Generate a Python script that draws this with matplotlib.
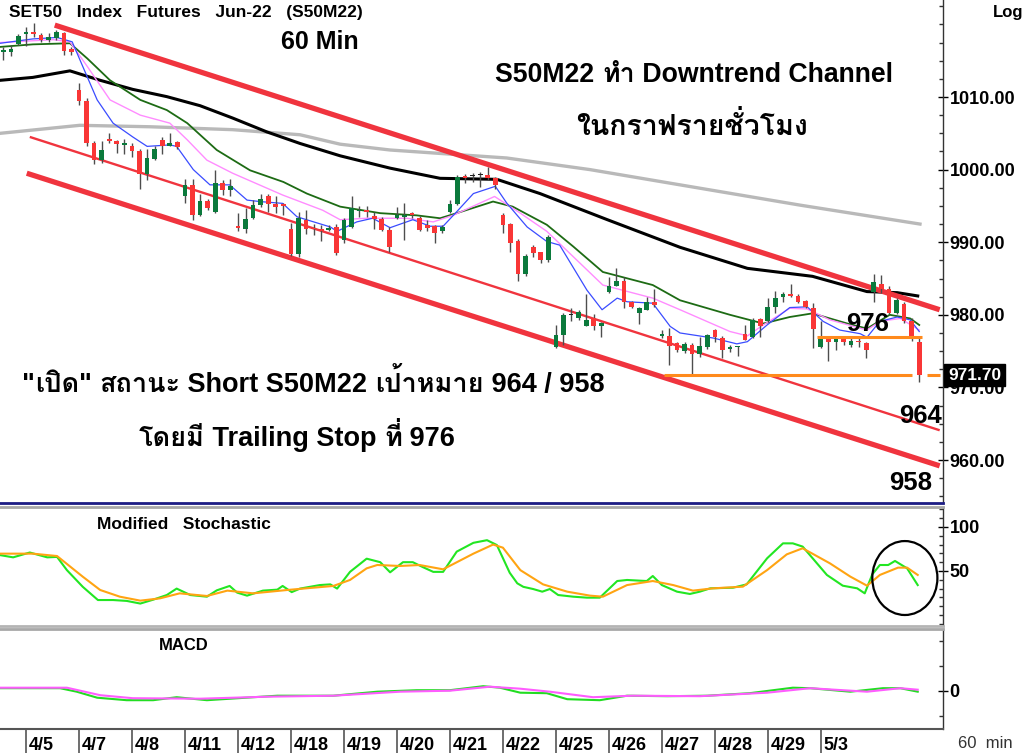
import re
import matplotlib
matplotlib.use('Agg')
import matplotlib.pyplot as plt
from matplotlib import font_manager
from matplotlib import patheffects as pe
from matplotlib.ft2font import FT2Font
from matplotlib.patches import Ellipse
from matplotlib.ticker import FixedLocator, MultipleLocator, FormatStrFormatter, NullFormatter
import numpy as np

# ---------------- data ----------------
opens = [1016.2, 1016.2, 1017.3, 1018.7, 1018.9, 1018.5, 1017.9, 1018.1, 1018.8, 1016.6,
         1010.9, 1009.4, 1003.6, 1001.3, 1004.2, 1003.9, 1003.4, 1003.2, 1002.5, 999.4,
         1001.4, 1004.1, 1003.3, 1003.8, 996.3, 997.9, 993.7, 995.7, 994.1, 998.2,
         997.2, 992.3, 991.8, 993.3, 995.1, 996.4, 995.3, 995.2, 991.8, 988.4,
         993.1, 992.0, 991.8, 991.7, 992.1, 990.3, 992.1, 994.3, 994.4, 993.6,
         993.2, 991.7, 993.4, 993.5, 994.0, 993.4, 992.4, 992.2, 991.5, 994.1,
         995.3, 999.1, 999.1, 999.2, 999.3, 998.8, 993.8, 992.5, 990.1, 985.6,
         989.4, 988.6, 987.5, 975.5, 977.2, 980.0, 979.5, 978.5, 979.5, 978.5,
         983.2, 984.0, 984.7, 981.8, 980.2, 980.7, 981.7, 977.1, 977.1, 976.1,
         975.0, 975.8, 974.6, 975.5, 977.9, 976.8, 975.3, 975.5, 977.4, 976.9,
         979.4, 979.1, 981.1, 982.5, 982.8, 982.6, 981.9, 981.0, 975.5, 976.9,
         976.2, 976.9, 975.8, 976.3, 976.1, 983.1, 984.3, 983.5, 980.3, 981.5,
         979.2, 976.2]
highs = [1016.9, 1017.2, 1018.7, 1019.7, 1020.2, 1018.8, 1018.8, 1019.2, 1019.0, 1016.9,
         1011.9, 1009.8, 1004.0, 1003.9, 1005.0, 1004.1, 1004.2, 1003.6, 1002.9, 1002.9,
         1003.2, 1004.5, 1005.0, 1003.9, 998.7, 998.7, 996.7, 995.9, 999.9, 998.6,
         998.7, 994.0, 994.7, 995.8, 996.6, 996.7, 996.3, 995.4, 992.6, 994.1,
         994.4, 992.5, 992.4, 992.4, 992.5, 993.3, 996.3, 995.0, 995.0, 994.2,
         993.5, 992.1, 994.9, 995.4, 994.2, 993.6, 993.0, 992.4, 992.4, 995.8,
         999.3, 999.4, 999.6, 999.7, 1000.4, 999.0, 994.0, 992.6, 990.4, 988.4,
         989.6, 988.7, 991.0, 978.6, 980.2, 980.9, 980.7, 982.9, 980.1, 979.0,
         985.2, 986.4, 985.2, 981.9, 981.1, 982.4, 983.5, 977.9, 978.2, 976.2,
         976.2, 976.1, 977.0, 977.4, 978.0, 977.1, 975.9, 975.7, 978.6, 979.5,
         979.5, 982.3, 983.3, 983.1, 984.3, 982.9, 982.1, 981.6, 979.1, 977.1,
         977.1, 977.1, 976.8, 977.1, 976.3, 985.6, 985.5, 984.0, 982.3, 981.7,
         979.5, 976.9]
lows = [1015.1, 1015.6, 1017.2, 1017.0, 1018.2, 1017.6, 1017.6, 1017.9, 1015.8, 1015.8,
        1008.9, 1003.2, 1000.8, 1000.9, 1003.7, 1002.3, 1002.2, 1001.7, 997.3, 998.6,
        1001.3, 1002.1, 1003.2, 1002.9, 995.4, 993.1, 993.6, 994.5, 994.0, 996.5,
        996.4, 991.6, 991.2, 993.2, 994.8, 994.2, 994.0, 993.7, 988.1, 988.0,
        991.1, 991.0, 990.2, 991.5, 988.2, 989.9, 992.0, 993.5, 993.5, 991.8,
        991.5, 988.7, 993.2, 990.3, 993.4, 991.5, 991.5, 989.9, 991.2, 994.0,
        995.1, 998.1, 998.3, 997.6, 998.6, 997.3, 991.2, 988.6, 984.6, 985.3,
        988.0, 987.1, 987.3, 975.4, 975.8, 979.1, 979.3, 978.4, 977.9, 977.0,
        983.0, 983.9, 980.9, 980.9, 978.8, 980.7, 981.1, 976.8, 973.1, 974.9,
        974.8, 971.9, 974.2, 975.3, 976.3, 974.0, 974.9, 974.3, 976.5, 976.8,
        977.0, 979.0, 980.3, 981.8, 982.5, 981.6, 980.9, 975.4, 975.4, 973.7,
        975.2, 975.9, 975.5, 975.5, 974.1, 981.7, 983.0, 980.1, 980.1, 978.9,
        976.4, 970.7]
closes = [1016.5, 1016.6, 1018.4, 1019.0, 1018.7, 1017.9, 1018.2, 1018.9, 1016.4, 1016.2,
          1009.5, 1003.6, 1001.3, 1002.7, 1004.0, 1003.5, 1003.7, 1002.5, 999.4, 1001.6,
          1002.8, 1003.2, 1003.7, 1003.1, 997.9, 993.7, 995.7, 994.7, 998.2, 997.2,
          997.7, 992.0, 993.2, 995.1, 995.9, 995.3, 994.9, 995.0, 988.4, 993.3,
          991.8, 991.8, 991.6, 991.9, 988.5, 993.0, 994.7, 994.5, 994.1, 993.2,
          991.7, 989.3, 993.7, 993.8, 993.7, 991.7, 992.0, 991.3, 992.1, 995.3,
          999.0, 998.9, 999.1, 999.2, 998.8, 997.9, 992.4, 989.9, 985.6, 988.1,
          988.5, 987.5, 990.7, 977.2, 980.0, 980.05, 980.4, 979.3, 978.5, 978.9,
          984.0, 984.6, 981.8, 981.1, 980.9, 981.7, 981.4, 977.4, 975.7, 975.2,
          976.0, 974.6, 975.7, 977.2, 977.0, 975.2, 975.6, 975.6, 976.6, 979.3,
          978.5, 981.1, 982.3, 982.8, 982.6, 981.8, 981.1, 978.1, 976.9, 976.2,
          976.9, 976.2, 976.4, 976.2, 975.2, 984.5, 983.5, 980.3, 982.0, 979.1,
          976.9, 971.7]

day_labels = ['4/5', '4/7', '4/8', '4/11', '4/12', '4/18', '4/19', '4/20', '4/21',
              '4/22', '4/25', '4/26', '4/27', '4/28', '4/29', '5/3']
day_start = [3, 10, 17, 24, 31, 38, 45, 52, 59, 66, 73, 80, 87, 94, 101, 108]

# moving averages (bar index, value)
gray_idx = [-0.4, 10.1, 19.4, 30.3, 39.2, 44.5, 51.1, 66.5, 77.5, 89.4, 105.3, 121.1]
gray_val = [1005.0, 1006.1, 1005.9, 1005.5, 1004.8, 1003.5, 1002.7, 1001.6, 1000.0, 997.9, 995.1, 992.5]
black_idx = [-0.4, 3.9, 8.8, 12.8, 17.1, 21.6, 26.0, 30.3, 34.8, 39.2, 44.5, 51.1, 57.7, 65.2,
             70.9, 79.8, 89.4, 98.3, 106.9, 114.1, 118.1, 120.8]
black_val = [1012.3, 1012.7, 1013.6, 1012.3, 1011.05, 1010.05, 1008.8, 1007.1, 1005.2, 1003.6,
             1001.9, 1000.2, 998.8, 998.66, 996.7, 993.1, 989.3, 986.4, 985.3, 983.2, 983.05, 982.6]
green_idx = [-0.4, 3.9, 8.8, 11.1, 14.1, 18.1, 21.6, 24.3, 28.2, 32.6, 37.0, 40.1, 44.5, 49.8,
             54.6, 57.7, 59.9, 64.7, 67.3, 71.8, 75.3, 79.2, 85.8, 89.4, 96.0, 100.4, 103.9,
             106.9, 111.5, 114.1, 117.1, 119.8, 121.0]
green_val = [1016.9, 1017.25, 1017.4, 1015.3, 1012.3, 1009.6, 1008.2, 1006.4, 1002.7, 999.9,
             998.3, 996.7, 994.9, 994.0, 993.7, 993.3, 994.0, 995.6, 994.9, 992.4, 989.4, 985.9,
             984.1, 982.0, 980.0, 978.8, 979.7, 980.2, 978.8, 978.1, 980.0, 979.5, 978.6]
pink_idx = [-0.4, 6.6, 8.8, 11.1, 14.1, 18.1, 22.0, 24.3, 26.9, 30.3, 36.9, 42.2, 44.5, 48.0,
            53.3, 56.8, 59.4, 64.9, 68.3, 71.8, 75.3, 79.2, 85.8, 89.4, 96.0, 98.3, 100.4,
            103.9, 106.2, 109.2, 114.1, 115.8, 118.5, 121.0]
pink_val = [1017.5, 1017.9, 1017.6, 1014.2, 1009.6, 1007.5, 1006.4, 1004.1, 1001.3, 999.5,
            996.5, 994.4, 993.1, 993.3, 993.3, 992.8, 993.7, 996.3, 994.0, 991.5, 988.0, 984.1,
            982.3, 980.7, 977.7, 977.1, 978.6, 980.9, 980.8, 979.3, 977.9, 979.1, 979.5, 977.9]
blue_idx = [-0.4, 3.9, 7.1, 9.1, 10.5, 12.4, 14.5, 17.1, 19.0, 22.0, 22.9, 25.1, 27.3, 29.9,
            32.2, 33.9, 36.9, 38.8, 43.2, 44.1, 46.7, 48.8, 51.1, 54.1, 56.4, 58.1, 59.9, 62.1,
            65.0, 66.5, 69.2, 71.8, 73.5, 77.1, 79.1, 81.1, 82.4, 85.8, 88.1, 89.4, 93.8, 96.9,
            98.3, 100.9, 103.9, 106.2, 108.3, 110.5, 113.2, 114.1, 115.8, 118.1, 119.8, 121.0]
blue_val = [1017.4, 1018.0, 1018.2, 1017.6, 1014.2, 1009.6, 1006.4, 1004.5, 1003.2, 1003.4,
            1003.2, 1000.0, 997.9, 997.9, 995.8, 995.6, 995.35, 993.5, 992.1, 991.5, 992.8,
            993.3, 992.0, 993.1, 992.2, 992.2, 994.2, 996.7, 997.7, 995.4, 992.1, 990.1, 989.6,
            983.4, 980.7, 982.3, 981.8, 981.6, 978.4, 977.5, 976.8, 976.0, 976.3, 978.6, 981.0,
            981.1, 979.1, 977.9, 977.4, 976.9, 979.1, 979.7, 979.3, 977.7]

# trend channel (bar index, price) end points
chan_upper_x = [6.8, 123.7]
chan_upper_y = [1019.9, 980.7]
chan_mid_x = [3.5, 123.7]
chan_mid_y = [1004.5, 964.1]
chan_lower_x = [3.1, 123.7]
chan_lower_y = [999.5, 959.2]

stop_level = 977.0
stop_x = [107.5, 121.4]
last_level = 971.7
last_x1 = [87.3, 120.0]
last_x2 = [122.0, 123.7]

# Modified stochastic
stk_idx = [-0.4, 1.3, 3.5, 5.8, 7.1, 8.4, 10.5, 12.5, 14.5, 16.3, 18.1, 19.8, 21.6, 22.9, 24.7,
           26.9, 28.2, 29.9, 30.9, 32.2, 34.3, 36.2, 36.9, 38.1, 39.2, 41.8, 43.2, 44.1, 45.8,
           48.0, 49.8, 51.1, 52.8, 54.1, 55.4, 56.8, 58.1, 59.9, 62.1, 63.9, 65.2, 66.9, 67.9,
           68.7, 70.0, 71.2, 72.2, 73.3, 75.3, 77.1, 78.8, 81.1, 82.4, 85.0, 85.8, 87.0, 89.0,
           90.7, 92.0, 93.4, 96.4, 98.2, 100.9, 103.0, 104.3, 105.6, 108.8, 110.9, 112.8, 113.8,
           114.8, 115.8, 116.9, 117.8, 119.4, 120.8]
stk_val = [68, 65.5, 71, 65.5, 66, 51, 32, 17, 17, 16, 13, 17.4, 22.7, 30, 22.7, 20.8, 28, 33,
           25.4, 22, 27.7, 28.8, 33, 26, 30, 34, 34.8, 30, 49, 64, 60, 48.5, 60, 60, 54.5, 49, 49,
           72, 82, 85, 79.5, 48, 36, 32, 29.5, 26.5, 29.5, 22.7, 20.8, 19.7, 19.7, 38.6, 39.8,
           38.6, 44.3, 34, 26.5, 23.9, 26.5, 30.3, 31, 34.8, 64.4, 81.4, 81.4, 77.7, 45.5, 33.3,
           30.3, 24.6, 46.2, 56.8, 56.8, 61.4, 53, 34]
std_idx = [-0.4, 3.9, 7.1, 10.5, 12.8, 15.4, 18.1, 20.7, 23.3, 26.9, 29.6, 33.0, 37.5, 43.6,
           45.8, 48.0, 49.4, 52.4, 55.0, 58.1, 62.1, 64.7, 66.0, 68.3, 71.3, 74.5, 77.5, 79.2,
           82.4, 85.8, 88.5, 91.1, 93.8, 97.7, 100.9, 103.5, 105.6, 109.2, 111.9, 114.1, 115.8,
           118.2, 119.4, 120.8]
std_val = [69.7, 69.7, 67, 43.5, 28.4, 20.8, 16.3, 18.9, 24.6, 21.6, 27.7, 24.6, 28.4, 33, 39.8,
           53, 56.8, 55.7, 56.8, 51.9, 69.7, 80, 76.5, 51, 34.8, 26.5, 22, 20.8, 34, 38.6, 34,
           27.7, 30.3, 32.2, 51, 68.9, 75.8, 58.7, 43.6, 33.3, 45.5, 53.8, 53.8, 45.5]

# MACD
macd_idx = [-0.4, 7.5, 9.7, 12.4, 16.3, 19.8, 22.9, 26.9, 36.2, 43.6, 49.4, 54.6, 59.0, 63.4,
            65.6, 68.3, 71.8, 74.5, 78.8, 82.4, 87.7, 93.0, 98.6, 104.3, 106.6, 111.9, 116.2,
            118.5, 120.8]
macd_val = [0.5, 0.5, -0.2, -1.4, -1.9, -1.9, -1.3, -1.9, -1.0, -1.0, -0.2, 0.1, 0.1, 0.9, 0.6,
            -0.4, -0.5, -1.7, -1.9, -1.0, -1.1, -1.0, -0.5, 0.6, 0.5, -0.2, 0.5, 0.5, -0.2]
sig_idx = [-0.4, 8.4, 12.8, 17.1, 26.0, 34.8, 43.6, 52.4, 59.0, 64.3, 68.3, 72.2, 77.9, 83.2,
           92.0, 100.9, 106.6, 114.1, 118.5, 120.8]
sig_val = [0.6, 0.6, -0.9, -1.5, -1.6, -1.2, -1.0, -0.2, 0.0, 0.8, 0.4, -0.2, -1.3, -1.0, -1.1,
           -0.4, 0.5, -0.2, 0.5, 0.2]

# ---------------- fonts ----------------
def thai_font_info():
    info = {}
    for f in font_manager.fontManager.ttflist:
        try:
            cmap = FT2Font(f.fname).get_charmap()
        except Exception:
            continue
        if all(cp in cmap for cp in (0x0E17, 0x0E42, 0x0E1F, 0x0E34, 0x0E49)):
            w = f.weight
            if isinstance(w, str):
                w = font_manager.weight_dict.get(w, 400)
            info.setdefault(f.name, set()).add(int(w))
    return info

tinfo = thai_font_info()
pref = ['Tahoma', 'Loma', 'Garuda', 'Noto Sans Thai Looped', 'Noto Sans Thai', 'Noto Sans Thai UI',
        'Tlwg Typo', 'Waree', 'Umpush', 'Sawasdee', 'Norasi', 'Kinnari', 'FreeSans']
bold_fams = [n for n in tinfo if max(tinfo[n]) >= 600]
thai = None
thai_bold = False
for p in pref:
    if p in bold_fams:
        thai, thai_bold = p, True
        break
if thai is None and bold_fams:
    thai, thai_bold = bold_fams[0], True
if thai is None:
    for p in pref:
        if p in tinfo:
            thai = p
            break
if thai is None and tinfo:
    thai = sorted(tinfo)[0]

latin = ['Liberation Sans', 'DejaVu Sans']
plt.rcParams['font.family'] = latin
plt.rcParams['font.weight'] = 'bold'

# ---------------- figure ----------------
W, H = 1024.0, 753.0
fig = plt.figure(figsize=(W / 100, H / 100), dpi=100)
fig.patch.set_facecolor('white')

def rect(x0, y0, x1, y1):
    return [x0 / W, 1 - y1 / H, (x1 - x0) / W, (y1 - y0) / H]

ax = fig.add_axes(rect(0, 0, 942.7, 502.5))
axs = fig.add_axes(rect(0, 507, 942.7, 626))
axm = fig.add_axes(rect(0, 628.5, 942.7, 729))

XL = (-0.436, 124.1)
for a in (ax, axs, axm):
    a.set_xlim(*XL)
    a.set_xticks([])
    a.spines['left'].set_visible(False)
    a.spines['right'].set_color('#333333')
    a.spines['right'].set_linewidth(1.0)
    a.yaxis.tick_right()
    a.set_facecolor('white')

ax.set_ylim(954.15, 1023.36)
axs.set_ylim(-12.5, 122.7)
axm.set_ylim(-7.66, 12.44)

ax.spines['top'].set_visible(False)
ax.spines['bottom'].set_color('#1c1c84')
ax.spines['bottom'].set_linewidth(2.0)
axs.spines['top'].set_color('#a8a8a8')
axs.spines['top'].set_linewidth(2.0)
axs.spines['bottom'].set_color('#b4b4b4')
axs.spines['bottom'].set_linewidth(2.0)
axm.spines['top'].set_color('#a8a8a8')
axm.spines['top'].set_linewidth(2.0)
axm.spines['bottom'].set_color('#555555')
axm.spines['bottom'].set_linewidth(1.5)

ax.yaxis.set_major_locator(FixedLocator([960, 970, 980, 990, 1000, 1010]))
ax.yaxis.set_major_formatter(FormatStrFormatter('%.2f'))
ax.yaxis.set_minor_locator(MultipleLocator(2.5))
axs.yaxis.set_major_locator(FixedLocator([50, 100]))
axs.yaxis.set_minor_locator(MultipleLocator(10))
axm.yaxis.set_major_locator(FixedLocator([0]))
axm.yaxis.set_minor_locator(MultipleLocator(5))
for a in (ax, axs, axm):
    a.tick_params(axis='y', which='major', direction='inout', length=7, width=1,
                  pad=1.5, labelsize=13, colors='black')
    a.tick_params(axis='y', which='minor', direction='in', length=3, width=1, color='#333333')
    a.yaxis.set_minor_formatter(NullFormatter())

# moving averages
ax.plot(gray_idx, gray_val, color='#b9b9b9', lw=2.4, zorder=2)
ax.plot(black_idx, black_val, color='black', lw=2.2, zorder=2)
ax.plot(green_idx, green_val, color='#1d6b14', lw=1.3, zorder=2)
ax.plot(pink_idx, pink_val, color='#ff8cff', lw=1.0, zorder=2)
ax.plot(blue_idx, blue_val, color='#3a4cff', lw=0.9, zorder=2)

# channel
red = '#f0343e'
ax.plot(chan_upper_x, chan_upper_y, color=red, lw=3.8, zorder=3, solid_capstyle='butt')
ax.plot(chan_mid_x, chan_mid_y, color=red, lw=1.7, zorder=3, solid_capstyle='butt')
ax.plot(chan_lower_x, chan_lower_y, color=red, lw=3.8, zorder=3, solid_capstyle='butt')

# candles
o = np.array(opens); h = np.array(highs); l = np.array(lows); c = np.array(closes)
idx = np.arange(len(c))
ax.vlines(idx, l, h, color='#4d4d4d', lw=1.0, zorder=4)
diff = c - o
cols = np.where(np.abs(diff) < 0.08, '#222222', np.where(diff > 0, '#0b7a3c', '#f93636'))
bottoms = np.minimum(o, c)
heights = np.maximum(np.abs(diff), 0.14)
ax.bar(idx, heights, bottom=bottoms, width=0.62, color=cols, linewidth=0, zorder=5)

# stop / last price lines
orange = '#ff8a1c'
ax.plot(stop_x, [stop_level, stop_level], color=orange, lw=2.2, zorder=6, solid_capstyle='butt')
ax.plot(last_x1, [last_level, last_level], color=orange, lw=2.2, zorder=6, solid_capstyle='butt')
ax.plot(last_x2, [last_level, last_level], color=orange, lw=2.2, zorder=6, solid_capstyle='butt',
        clip_on=False)

ax.annotate('%.2f' % last_level, xy=(1.0, last_level), xycoords=('axes fraction', 'data'),
            xytext=(4, 0), textcoords='offset points', ha='left', va='center',
            color='white', fontsize=12.5, fontweight='bold', annotation_clip=False,
            bbox=dict(boxstyle='square,pad=0.22', fc='black', ec='black'), zorder=20)

# stochastic
axs.plot(stk_idx, stk_val, color='#22e622', lw=1.5, zorder=3)
axs.plot(std_idx, std_val, color='#ffa412', lw=1.5, zorder=4)
axs.add_patch(Ellipse((119.1, 42), 8.6, 84, fill=False, ec='black', lw=1.6, zorder=5,
                      clip_on=False))

# MACD
axm.plot(macd_idx, macd_val, color='#22dd22', lw=1.5, zorder=3)
axm.plot(sig_idx, sig_val, color='#ff5cff', lw=1.5, zorder=4)

# date axis
for s, lab in zip(day_start, day_labels):
    axm.plot([s, s], [0, -0.25], transform=axm.get_xaxis_transform(), color='#555555',
             lw=1.2, clip_on=False)
    axm.annotate(lab, xy=(s, 0), xycoords=('data', 'axes fraction'), xytext=(2, -6),
                 textcoords='offset points', ha='left', va='top', fontsize=13,
                 fontweight='bold', annotation_clip=False)

# texts
def ft(x, y, s, **kw):
    fig.text(x / W, 1 - y / H, s, **kw)

renderer = fig.canvas.get_renderer()
thai_re = re.compile(r'([\u0E00-\u0E7F]+)')

def run_props(part, size):
    kw = dict(fontsize=size, fontweight='bold', color='black')
    if thai_re.fullmatch(part) and thai:
        kw['family'] = [thai, 'DejaVu Sans']
        if not thai_bold:
            kw['path_effects'] = [pe.withStroke(linewidth=1.0, foreground='black')]
    else:
        kw['family'] = latin
    return kw

def run_width(part, kw):
    t1 = fig.text(0, 0, '|' + part + '|', **kw)
    t2 = fig.text(0, 0, '||', **kw)
    w = t1.get_window_extent(renderer).width - t2.get_window_extent(renderer).width
    t1.remove(); t2.remove()
    return w

def mixed(x, y, s, size, ha='left'):
    parts = [p for p in thai_re.split(s) if p]
    kws = [run_props(p, size) for p in parts]
    widths = [run_width(p, k) for p, k in zip(parts, kws)]
    total = sum(widths)
    x0 = x - total / 2 if ha == 'center' else x
    for p, k, w in zip(parts, kws, widths):
        fig.text(x0 / W, 1 - y / H, p, ha='left', va='baseline', **k)
        x0 += w

ft(9, 17, 'SET50   Index   Futures   Jun-22   (S50M22)', fontsize=12.5, va='baseline')
ft(320, 49, '60 Min', fontsize=18, ha='center', va='baseline')
ft(993, 17, 'Log', fontsize=12, va='baseline')
mixed(694, 82, 'S50M22 ทำ Downtrend Channel', 19.2, ha='center')
mixed(692, 135, 'ในกราฟรายชั่วโมง', 20.5, ha='center')
mixed(22, 392, '"เปิด" สถานะ Short S50M22 เป้าหมาย 964 / 958', 19.5)
mixed(297, 446, 'โดยมี Trailing Stop ที่ 976', 19.5, ha='center')
ft(868, 331, '976', fontsize=18.5, ha='center', va='baseline')
ft(921, 423, '964', fontsize=18.5, ha='center', va='baseline')
ft(911, 490, '958', fontsize=18.5, ha='center', va='baseline')
ft(97, 529, 'Modified   Stochastic', fontsize=12.5, va='baseline')
ft(159, 650, 'MACD', fontsize=12, va='baseline')
ft(958, 748, '60  min', fontsize=12, fontweight='normal', color='#333333', va='baseline')

fig.savefig('out.png', dpi=100, facecolor='white')
